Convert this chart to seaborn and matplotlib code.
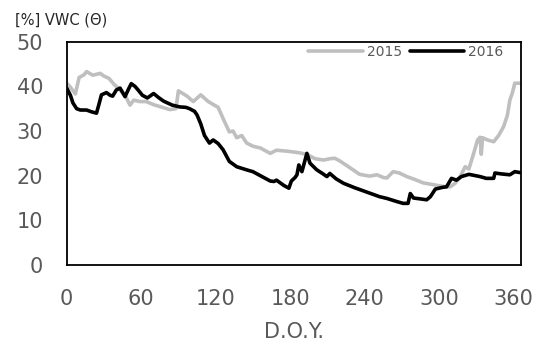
import matplotlib
matplotlib.use("Agg")
import matplotlib.pyplot as plt
import pandas as pd
import seaborn as sns

# Volumetric water content by day of year
doy_2015 = [0, 3, 7, 10, 14, 16, 21, 27, 30, 34, 38, 43, 48, 51, 54, 59, 64, 70, 76, 83,
            88, 90, 97, 102, 108, 114, 122, 126, 131, 134, 137, 141, 145, 150, 156, 164,
            169, 177, 183, 188, 194, 200, 207, 212, 216, 220, 226, 236, 244, 250, 255,
            258, 263, 268, 274, 280, 287, 295, 303, 309, 313, 317, 321, 324, 328, 331,
            333, 334, 335, 339, 344, 348, 352, 355, 357, 359, 361, 365]
vwc_2015 = [40.7, 39.8, 38.3, 42.0, 42.6, 43.3, 42.5, 42.9, 42.3, 41.8, 40.5, 39.2, 37.5,
            35.8, 36.9, 36.6, 36.6, 35.9, 35.4, 34.8, 35.0, 39.0, 37.8, 36.6, 38.1, 36.6,
            35.3, 32.8, 29.8, 30.0, 28.5, 29.0, 27.3, 26.6, 26.2, 25.0, 25.7, 25.5, 25.3,
            25.1, 24.7, 23.8, 23.5, 23.8, 23.9, 23.3, 22.2, 20.3, 19.9, 20.2, 19.6, 19.5,
            20.9, 20.6, 19.8, 19.2, 18.4, 18.0, 17.6, 17.5, 18.3, 19.8, 22.0, 21.5, 25.1,
            28.0, 28.6, 24.8, 28.5, 28.0, 27.6, 29.0, 31.0, 33.5, 36.9, 38.5, 40.7, 40.7]

doy_2016 = [0, 3, 5, 8, 11, 16, 20, 24, 26, 28, 32, 35, 37, 40, 43, 47, 50, 52, 55, 57.5,
            61, 65, 70, 74, 78, 85, 91, 96, 99, 103, 105, 108, 111, 115, 118, 122, 126,
            131, 137, 145, 150, 156, 164, 167, 169, 175, 179, 181, 184, 185.5, 187, 189.5,
            193.5, 196, 201.5, 206, 209.6, 212, 217, 223, 232, 242, 252, 258, 266, 271,
            275, 276.8, 279.4, 285, 290, 293, 297, 303, 306, 310, 314, 318, 324, 333, 338,
            344, 345, 350, 357, 361, 365]
vwc_2016 = [39.6, 38.0, 36.3, 35.0, 34.7, 34.7, 34.3, 34.0, 36.0, 38.1, 38.6, 38.0, 37.8,
            39.2, 39.6, 37.7, 39.5, 40.6, 40.0, 39.2, 38.0, 37.4, 38.4, 37.5, 36.7, 35.8,
            35.4, 35.3, 35.0, 34.4, 33.6, 31.6, 29.0, 27.3, 28.0, 27.2, 25.8, 23.2, 22.0,
            21.3, 20.9, 20.0, 18.8, 18.7, 19.0, 17.8, 17.2, 18.8, 19.6, 20.2, 22.4, 20.9,
            25.0, 22.8, 21.3, 20.5, 19.8, 20.5, 19.3, 18.3, 17.3, 16.3, 15.3, 14.9, 14.2,
            13.8, 13.8, 16.0, 15.0, 14.8, 14.6, 15.3, 17.0, 17.4, 17.5, 19.4, 19.0, 19.8,
            20.3, 19.8, 19.4, 19.4, 20.6, 20.4, 20.2, 20.9, 20.7]

years = ["2015", "2016"]
x_ticks = [0, 60, 120, 180, 240, 300, 360]
y_ticks = [0, 10, 20, 30, 40, 50]

df = pd.concat([
    pd.DataFrame({"doy": doy_2015, "vwc": vwc_2015, "year": years[0]}),
    pd.DataFrame({"doy": doy_2016, "vwc": vwc_2016, "year": years[1]}),
])

sns.set_style("white")
plt.rcParams["font.family"] = ["DejaVu Sans"]

fig = plt.figure(figsize=(5.43, 3.5), dpi=100)
ax = fig.add_axes([66.7 / 543, 1 - 265 / 350, (521 - 66.7) / 543, (265 - 41.7) / 350])

sns.lineplot(data=df, x="doy", y="vwc", hue="year", hue_order=years,
             palette={"2015": "#BFBFBF", "2016": "#000000"},
             estimator=None, sort=False, linewidth=2.6, ax=ax)

ax.set_xlim(0, 366)
ax.set_ylim(0, 50)
ax.set_xticks(x_ticks)
ax.set_yticks(y_ticks)
ax.tick_params(length=0, pad=17, labelsize=15, labelcolor="#595959")

for sp in ax.spines.values():
    sp.set_visible(True)
    sp.set_color("black")
    sp.set_linewidth(1.3)

ax.set_ylabel("")
ax.set_xlabel("D.O.Y.", fontsize=15, color="#595959", labelpad=10)

fig.text(15 / 543, 1 - 20 / 350, "[%] VWC (\u0398)", fontsize=10.5, color="#262626",
         ha="left", va="center")

ax.legend(loc="center right", bbox_to_anchor=(0.962, 0.955), ncol=2, frameon=False,
          borderaxespad=0, borderpad=0, handlelength=3.9, handletextpad=0.3,
          columnspacing=0.6, fontsize=10, labelcolor="#595959", title=None)

fig.savefig("out.png", dpi=100)
